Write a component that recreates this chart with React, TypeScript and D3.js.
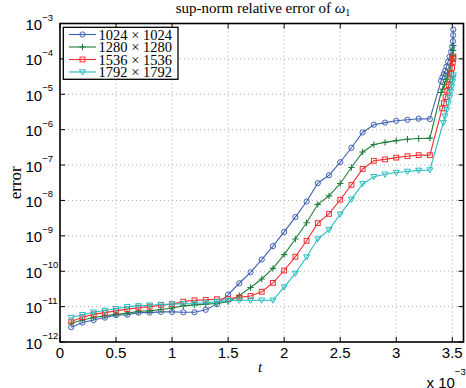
import React from "react";
import * as d3 from "d3";

const W = 466;
const H = 388;

// time in units of 1e-3
const tMain = [0.1, 0.2, 0.3, 0.4, 0.5, 0.6, 0.7, 0.8, 0.9, 1.0, 1.1, 1.2, 1.3, 1.4, 1.5, 1.6, 1.7, 1.8, 1.9, 2.0, 2.1, 2.2, 2.3, 2.4, 2.5, 2.6, 2.7, 2.8, 2.9, 3.0, 3.1, 3.2, 3.3];

// log10 of the error
const exp1024 = [-11.58, -11.45, -11.38, -11.31, -11.24, -11.23, -11.17, -11.17, -11.15, -11.15, -11.16, -11.16, -11.09, -10.93, -10.66, -10.34, -10.03, -9.67, -9.29, -8.89, -8.47, -8.03, -7.51, -7.29, -6.92, -6.51, -6.08, -5.86, -5.80, -5.75, -5.72, -5.69, -5.70];
const exp1280 = [-11.47, -11.38, -11.31, -11.26, -11.22, -11.19, -11.13, -11.12, -11.08, -11.04, -10.98, -10.95, -10.93, -10.91, -10.86, -10.69, -10.46, -10.22, -9.92, -9.53, -9.09, -8.63, -8.11, -7.87, -7.52, -7.07, -6.63, -6.42, -6.36, -6.31, -6.27, -6.25, -6.24];
const exp1536 = [-11.42, -11.30, -11.22, -11.17, -11.12, -11.07, -11.03, -11.00, -10.96, -10.93, -10.86, -10.82, -10.81, -10.79, -10.78, -10.74, -10.70, -10.58, -10.33, -9.98, -9.59, -9.14, -8.64, -8.38, -7.98, -7.56, -7.11, -6.88, -6.84, -6.79, -6.75, -6.72, -6.72];
const exp1792 = [-11.31, -11.23, -11.16, -11.11, -11.06, -11.00, -10.98, -10.96, -10.94, -10.93, -10.92, -10.91, -10.89, -10.86, -10.83, -10.82, -10.82, -10.82, -10.82, -10.45, -10.06, -9.60, -9.09, -8.83, -8.39, -7.97, -7.53, -7.33, -7.26, -7.21, -7.18, -7.15, -7.14];

// refined tails near blow-up
const tTail1024 = [3.40, 3.412, 3.424, 3.436, 3.448, 3.462, 3.476, 3.49, 3.50, 3.506, 3.508, 3.509];
const expTail1024 = [-4.62, -4.52, -4.43, -4.34, -4.22, -4.08, -3.94, -3.80, -3.66, -3.50, -3.33, -3.17];
const tTail1280 = [3.40, 3.415, 3.43, 3.445, 3.46, 3.474, 3.486, 3.496, 3.503, 3.507, 3.509];
const expTail1280 = [-4.95, -4.85, -4.72, -4.58, -4.45, -4.32, -4.18, -4.04, -3.90, -3.76, -3.62];
const tTail1536 = [3.41, 3.425, 3.44, 3.455, 3.468, 3.48, 3.49, 3.498, 3.504, 3.508, 3.51];
const expTail1536 = [-5.40, -5.25, -5.08, -4.90, -4.74, -4.58, -4.42, -4.25, -4.10, -4.00, -3.93];
const tTail1792 = [3.42, 3.435, 3.45, 3.465, 3.477, 3.488, 3.497, 3.503, 3.508, 3.51];
const expTail1792 = [-5.80, -5.62, -5.44, -5.26, -5.09, -4.93, -4.78, -4.64, -4.54, -4.46];

const seriesNames = ["1024 \u00d7 1024", "1280 \u00d7 1280", "1536 \u00d7 1536", "1792 \u00d7 1792"];
const seriesColors = ["#3f5fb4", "#1f7f3c", "#f03030", "#25bcbf"];
const seriesMarkers = ["circle", "plus", "square", "tri"];

const xTicks = [0, 0.5, 1, 1.5, 2, 2.5, 3, 3.5];
const yTickExps = [-12, -11, -10, -9, -8, -7, -6, -5, -4, -3];

const L = 60, R = 463.5, T = 23.5, B = 342;

function Marker({ kind, x, y, color }: { kind: string; x: number; y: number; color: string }) {
  if (kind === "circle") return <circle cx={x} cy={y} r={2.6} fill="none" stroke={color} strokeWidth={1} />;
  if (kind === "plus")
    return <path d={`M${x - 3.2},${y}H${x + 3.2}M${x},${y - 3.2}V${y + 3.2}`} stroke={color} strokeWidth={1.1} fill="none" />;
  if (kind === "square") return <rect x={x - 2.4} y={y - 2.4} width={4.8} height={4.8} fill="none" stroke={color} strokeWidth={1} />;
  return <path d={`M${x - 3},${y - 2.2}L${x + 3},${y - 2.2}L${x},${y + 3}Z`} fill="none" stroke={color} strokeWidth={1} />;
}

export default function App() {
  const x = d3.scaleLinear().domain([0, 3.6]).range([L, R]);
  const y = d3.scaleLog().domain([1e-12, 1e-3]).range([B, T]);

  const mains = [exp1024, exp1280, exp1536, exp1792];
  const tailsT = [tTail1024, tTail1280, tTail1536, tTail1792];
  const tailsE = [expTail1024, expTail1280, expTail1536, expTail1792];

  const series = mains.map((m, i) => {
    const pts: [number, number][] = [];
    tMain.forEach((t, j) => pts.push([t, Math.pow(10, m[j])]));
    tailsT[i].forEach((t, j) => pts.push([t, Math.pow(10, tailsE[i][j])]));
    return pts;
  });

  const line = d3
    .line<[number, number]>()
    .x((d) => x(d[0]))
    .y((d) => y(d[1]));

  const sans = "'Liberation Sans', Arial, Helvetica, sans-serif";
  const serif = "'Liberation Serif', 'Times New Roman', serif";

  return (
    <svg width={W} height={H} style={{ position: "absolute", left: 0, top: 0, background: "#fff" }}>
      <rect x={0} y={0} width={W} height={H} fill="#fff" />
      {/* grid */}
      {xTicks.filter((t) => t > 0).map((t) => (
        <line key={"gx" + t} x1={x(t)} x2={x(t)} y1={T} y2={B} stroke="#999" strokeWidth={0.8} strokeDasharray="1,3" />
      ))}
      {yTickExps.filter((e) => e > -12 && e < -3).map((e) => (
        <line key={"gy" + e} x1={L} x2={R} y1={y(Math.pow(10, e))} y2={y(Math.pow(10, e))} stroke="#999" strokeWidth={0.8} strokeDasharray="1,3" />
      ))}
      {/* ticks */}
      {xTicks.map((t) => (
        <g key={"tx" + t}>
          <line x1={x(t)} x2={x(t)} y1={B} y2={B - 5} stroke="#000" strokeWidth={1} />
          <line x1={x(t)} x2={x(t)} y1={T} y2={T + 5} stroke="#000" strokeWidth={1} />
          <text x={x(t)} y={358} textAnchor="middle" fontFamily={sans} fontSize={15} fill="#000">
            {String(t)}
          </text>
        </g>
      ))}
      {yTickExps.map((e) => {
        const yy = y(Math.pow(10, e));
        return (
          <g key={"ty" + e}>
            <line x1={L} x2={L + 5} y1={yy} y2={yy} stroke="#000" strokeWidth={1} />
            <line x1={R} x2={R - 5} y1={yy} y2={yy} stroke="#000" strokeWidth={1} />
            <text x={25.5} y={yy + 6.5} fontFamily={sans} fontSize={15} fill="#000">
              10
              <tspan dy={-9.5} fontSize={9.5}>{"\u2212" + String(-e)}</tspan>
            </text>
          </g>
        );
      })}
      {/* series */}
      <g>
        {series.map((pts, i) => (
          <g key={"s" + i}>
            <path d={line(pts) || ""} fill="none" stroke={seriesColors[i]} strokeWidth={1.1} />
            {pts.map((p, j) => (
              <Marker key={j} kind={seriesMarkers[i]} x={x(p[0])} y={y(p[1])} color={seriesColors[i]} />
            ))}
          </g>
        ))}
      </g>
      {/* frame */}
      <rect x={L} y={T} width={R - L} height={B - T} fill="none" stroke="#000" strokeWidth={1.6} />
      {/* legend */}
      <rect x={63.3} y={27.3} width={114.7} height={52} fill="#fff" stroke="#000" strokeWidth={1.3} />
      {seriesNames.map((name, i) => {
        const ly = 34.5 + i * 12.5;
        return (
          <g key={"lg" + i}>
            <line x1={69} x2={96} y1={ly} y2={ly} stroke={seriesColors[i]} strokeWidth={1.1} />
            <Marker kind={seriesMarkers[i]} x={82.5} y={ly} color={seriesColors[i]} />
            <text x={98.5} y={ly + 5} fontFamily={serif} fontSize={14.5} fill="#000">
              {name}
            </text>
          </g>
        );
      })}
      {/* title */}
      <text x={263} y={13} textAnchor="middle" fontFamily={serif} fontSize={15} fill="#000">
        sup-norm relative error of <tspan fontStyle="italic">{"\u03c9"}</tspan>
        <tspan dy={3} fontSize={10}>1</tspan>
      </text>
      {/* axis labels */}
      <text x={260} y={372} textAnchor="middle" fontFamily={serif} fontStyle="italic" fontSize={15} fill="#000">
        t
      </text>
      <text transform={`translate(21,${(T + B) / 2}) rotate(-90)`} textAnchor="middle" fontFamily={serif} fontSize={17} fill="#000">
        error
      </text>
      {/* exponent label */}
      <text x={426.5} y={387.5} fontFamily={sans} fontSize={15} fill="#000">
        x 10
        <tspan dy={-12.5} fontSize={9.5}>{"\u22123"}</tspan>
      </text>
    </svg>
  );
}
